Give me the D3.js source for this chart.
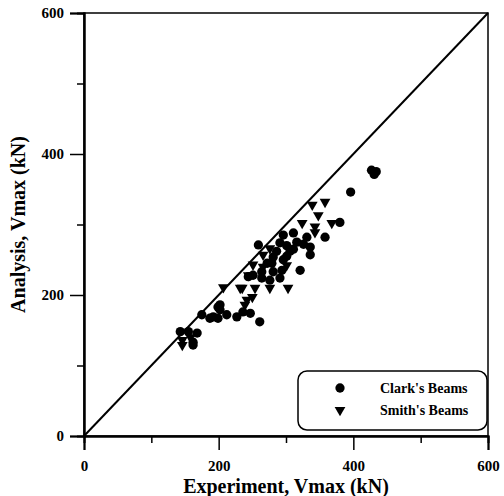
<!DOCTYPE html>
<html>
<head>
<meta charset="utf-8">
<script src="https://cdn.jsdelivr.net/npm/d3@7"></script>
<style>
    body { margin: 0; background: #fff; }
    text { font-family: 'Liberation Serif', 'DejaVu Serif', serif; font-weight: bold; fill: #000; }
</style>
</head>
<body>
<div id="chart"></div>
<script>
// Clark's beams: [experiment, analysis]
const clarkX = [427, 434, 431, 396, 380, 358, 336, 336, 331, 311, 296, 316, 291, 321, 259, 281, 296, 279,
    294, 281, 251, 264, 276, 291, 301, 306, 311, 326, 286, 301, 244, 264, 272,
    261, 247, 236, 227, 212, 202, 192, 175, 187, 199, 202, 143, 155, 168, 162, 162, 199];
const clarkY = [377, 375, 371, 346, 303, 282, 268, 257, 282, 288, 285, 275, 274, 235, 271, 254, 250, 245,
    235, 233, 228, 224, 221, 224, 270, 262, 265, 272, 262, 255, 226, 233, 245,
    162, 174, 176, 169, 172, 186, 169, 172, 167, 167, 179, 148, 148, 146, 133, 129, 183];

// Smith's beams
const smithX = [358, 339, 348, 324, 343, 368, 343, 276, 266, 251, 244, 235, 254, 276, 303, 250, 239,
    207, 232, 242, 146, 146, 158, 301, 266];
const smithY = [332, 328, 313, 302, 297, 302, 289, 266, 257, 243, 228, 210, 210, 210, 210, 197, 186,
    211, 210, 193, 136, 129, 140, 242, 240];

const majorTicks = [0, 200, 400, 600];
const minorTicks = [100, 300, 500];
const legendLabels = ["Clark's Beams", "Smith's Beams"];

const margin = { top: 13, left: 84, right: 16, bottom: 60 };
const width = 504;
const height = 496;

function drawChart() {
    const chartWidth = width - margin.left - margin.right;
    const chartHeight = height - margin.top - margin.bottom;

    const svg = d3.select('#chart').append('svg').attr('width', width).attr('height', height);
    const chart = svg.append('g').attr('transform', `translate(${margin.left}, ${margin.top})`);

    const xScale = d3.scaleLinear().domain([0, 600]).range([0, chartWidth]);
    const yScale = d3.scaleLinear().domain([0, 600]).range([chartHeight, 0]);

    // Frame
    chart.append('rect')
        .attr('width', chartWidth).attr('height', chartHeight)
        .attr('fill', 'none').attr('stroke', '#000').attr('stroke-width', 1.5);

    // Minor ticks first, then major ticks with labels
    const styleAxis = (g) => {
        g.select('.domain').attr('stroke-width', 2);
        g.selectAll('line').attr('stroke-width', 1.5);
        g.selectAll('text').style('font-size', '15px');
    };

    chart.append('g').attr('transform', `translate(0, ${chartHeight})`)
        .call(d3.axisBottom(xScale).tickValues(minorTicks).tickSize(7).tickFormat(''))
        .call(styleAxis);
    chart.append('g').attr('transform', `translate(0, ${chartHeight})`)
        .call(d3.axisBottom(xScale).tickValues(majorTicks).tickSize(14).tickPadding(10).tickFormat(d3.format('d')))
        .call(styleAxis);

    chart.append('g')
        .call(d3.axisLeft(yScale).tickValues(minorTicks).tickSize(7).tickFormat(''))
        .call(styleAxis);
    chart.append('g')
        .call(d3.axisLeft(yScale).tickValues(majorTicks).tickSize(14).tickPadding(6).tickFormat(d3.format('d')))
        .call(styleAxis);

    // 1:1 line
    chart.append('line')
        .attr('x1', xScale(0)).attr('y1', yScale(0))
        .attr('x2', xScale(600)).attr('y2', yScale(600))
        .attr('stroke', '#000').attr('stroke-width', 2);

    const circle = d3.symbol().type(d3.symbolCircle).size(68);
    const triangle = d3.symbol().type(d3.symbolTriangle).size(50);

    chart.append('g')
        .selectAll('path')
        .data(smithX.map((x, i) => [x, smithY[i]]))
        .enter()
        .append('path')
        .attr('d', triangle)
        .attr('transform', (d) => `translate(${xScale(d[0])}, ${yScale(d[1])}) rotate(180)`)
        .attr('fill', '#000');

    chart.append('g')
        .selectAll('path')
        .data(clarkX.map((x, i) => [x, clarkY[i]]))
        .enter()
        .append('path')
        .attr('d', circle)
        .attr('transform', (d) => `translate(${xScale(d[0])}, ${yScale(d[1])})`)
        .attr('fill', '#000');

    // Legend
    const legend = svg.append('g').attr('transform', 'translate(298, 371)');
    legend.append('rect')
        .attr('width', 189).attr('height', 59).attr('rx', 9)
        .attr('fill', '#fff').attr('stroke', '#000').attr('stroke-width', 1.5);
    legend.append('path').attr('d', circle).attr('transform', 'translate(42, 17)');
    legend.append('path').attr('d', triangle).attr('transform', 'translate(42, 39) rotate(180)');
    legend.selectAll('.label')
        .data(legendLabels)
        .enter()
        .append('text')
        .attr('class', 'label')
        .attr('x', 82)
        .attr('y', (d, i) => 22 + i * 22)
        .style('font-size', '14px')
        .text((d) => d);

    // Axis titles
    svg.append('text')
        .attr('x', margin.left + chartWidth / 2)
        .attr('y', 493)
        .attr('text-anchor', 'middle')
        .style('font-size', '20px')
        .text('Experiment, Vmax (kN)');

    svg.append('text')
        .attr('transform', `translate(25, ${margin.top + chartHeight / 2}) rotate(-90)`)
        .attr('text-anchor', 'middle')
        .style('font-size', '20px')
        .text('Analysis, Vmax (kN)');
}

window.addEventListener('DOMContentLoaded', drawChart);
</script>
</body>
</html>
